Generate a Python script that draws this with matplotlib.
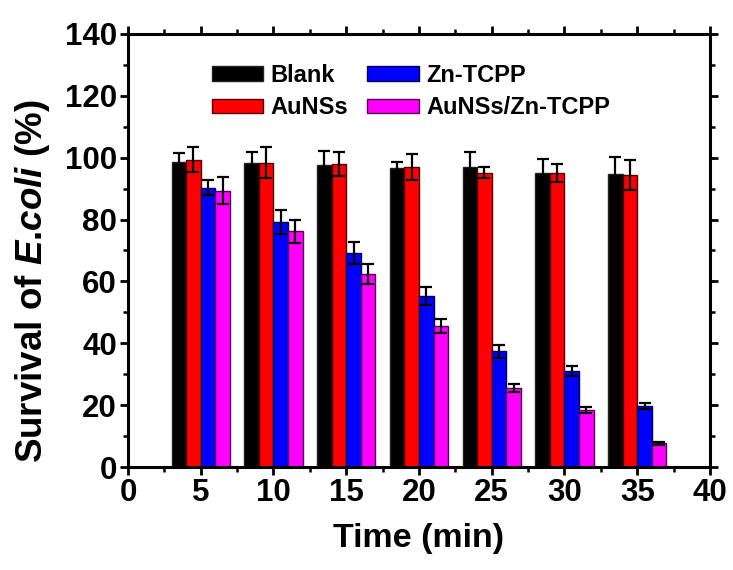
import numpy as np
import matplotlib
matplotlib.use("Agg")
import matplotlib.pyplot as plt
from matplotlib.ticker import MultipleLocator

# data
times = [5, 10, 15, 20, 25, 30, 35]
series = ["Blank", "AuNSs", "Zn-TCPP", "AuNSs/Zn-TCPP"]
blank = [98.6, 98.2, 97.5, 96.8, 96.9, 95.0, 94.6]
blank_err = [3.0, 3.8, 4.8, 1.8, 4.8, 4.7, 5.6]
aunss = [99.3, 98.4, 97.9, 96.9, 95.2, 95.0, 94.3]
aunss_err = [4.0, 5.0, 3.9, 4.2, 1.8, 2.8, 4.9]
zntcpp = [90.3, 79.2, 69.2, 55.2, 37.4, 30.9, 19.7]
zntcpp_err = [2.4, 4.0, 3.5, 2.9, 2.0, 1.6, 1.0]
combo = [89.3, 76.2, 62.5, 45.5, 25.4, 18.4, 7.6]
combo_err = [4.4, 3.8, 3.2, 2.2, 1.3, 0.9, 0.4]

colors = ["#000000", "#ff0000", "#0000ff", "#ff00ff"]
edges = ["#222222", "#550000", "#000055", "#550055"]

plt.rcParams['mathtext.fontset'] = 'custom'
plt.rcParams['mathtext.it'] = 'Liberation Sans:italic:bold'
plt.rcParams['mathtext.rm'] = 'Liberation Sans:bold'

font = ['Liberation Sans', 'DejaVu Sans']

fig = plt.figure(figsize=(7.33, 5.70), dpi=100)
ax = fig.add_axes([0.1746, 0.1807, 0.794, 0.7597])

x = np.array(times, dtype=float)
width = 1.0
vals = [blank, aunss, zntcpp, combo]
errs = [blank_err, aunss_err, zntcpp_err, combo_err]
for i, (v, e) in enumerate(zip(vals, errs)):
    pos = x + (i - 1.5) * width
    ax.bar(pos, v, width=width, color=colors[i], edgecolor=edges[i],
           linewidth=1.0, label=series[i], zorder=2)
    ax.errorbar(pos, v, yerr=e, fmt='none', ecolor='black', elinewidth=1.6,
                capsize=4.5, capthick=1.6, zorder=3)

ax.set_xlim(0, 40)
ax.set_ylim(0, 140)
ax.xaxis.set_major_locator(MultipleLocator(5))
ax.xaxis.set_minor_locator(MultipleLocator(2.5))
ax.yaxis.set_major_locator(MultipleLocator(20))
ax.yaxis.set_minor_locator(MultipleLocator(10))

for s in ax.spines.values():
    s.set_linewidth(2.2)
ax.tick_params(which='major', direction='out', length=6, width=2.0,
               top=True, right=True, pad=2)
ax.tick_params(which='minor', direction='out', length=3.5, width=1.8,
               top=True, right=True)
ax.tick_params(axis='x', which='both', length=2, top=True, bottom=False)
ax.tick_params(axis='x', which='major', length=6, bottom=True)
ax.tick_params(axis='x', which='minor', length=3.5, bottom=True)

for lab in ax.get_xticklabels() + ax.get_yticklabels():
    lab.set_family(font)
    lab.set_fontweight('bold')
    lab.set_fontsize(22.5)

ax.set_xlabel("Time (min)", family=font, fontweight='bold', fontsize=24.5,
              labelpad=11)
ax.set_ylabel(r"Survival of $\mathit{E}$.$\mathit{coli}$ (%)", family=font,
              fontweight='bold', fontsize=26.5)
ax.yaxis.set_label_coords(-0.13, 0.43)

leg = ax.legend(loc='upper left', bbox_to_anchor=(0.107, 0.98), ncol=2,
                frameon=False, prop={'family': 'Liberation Sans',
                                     'weight': 'bold', 'size': 17},
                handlelength=2.2, handleheight=0.55, columnspacing=0.8,
                handletextpad=0.3, labelspacing=0.4)

fig.savefig("out.png", dpi=100)
